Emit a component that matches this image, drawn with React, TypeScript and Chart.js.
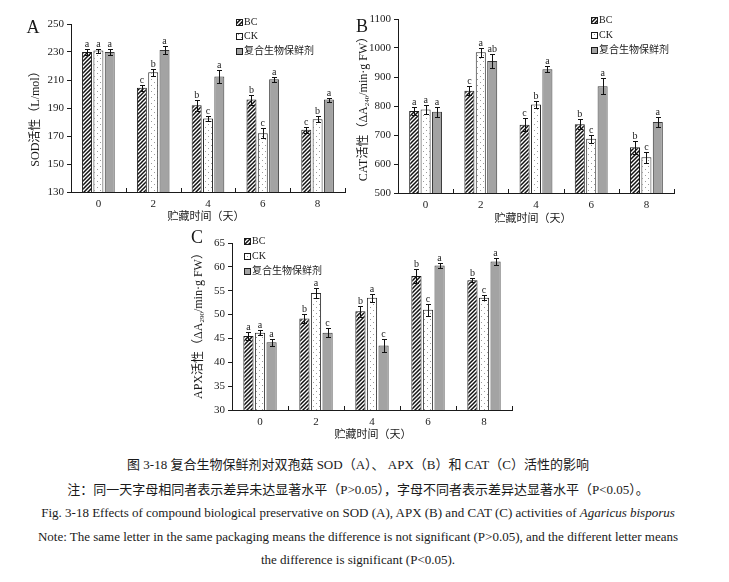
import React, { useEffect, useRef } from "react";
import { Chart, registerables } from "chart.js";

Chart.register(...registerables);

// ---------- data ----------
const DAYS = ["0", "2", "4", "6", "8"];
const SERIES_NAMES = ["BC", "CK", "复合生物保鲜剂"];

// SOD (A)
const SOD_BC = [230, 204.5, 192, 196, 174.5];
const SOD_CK = [231, 215.5, 182.5, 172, 182];
const SOD_FRESH = [230, 231.5, 212.5, 210.5, 196];
const SOD_ERR_BC = [2, 2, 4, 3.5, 2];
const SOD_ERR_CK = [1.5, 2.5, 1.5, 3.5, 2];
const SOD_ERR_FRESH = [2, 3, 4.5, 2, 1.5];
const SOD_SIG_BC = ["a", "c", "b", "b", "c"];
const SOD_SIG_CK = ["a", "b", "c", "c", "b"];
const SOD_SIG_FRESH = ["a", "a", "a", "a", "a"];
const SOD_TICKS = [130, 150, 170, 190, 210, 230, 250];

// CAT (B)
const CAT_BC = [783, 853, 735, 737, 658];
const CAT_CK = [788, 985, 805, 687, 623];
const CAT_FRESH = [780, 955, 927, 868, 745];
const CAT_ERR_BC = [13, 15, 22, 18, 22];
const CAT_ERR_CK = [15, 15, 13, 13, 20];
const CAT_ERR_FRESH = [17, 25, 10, 28, 18];
const CAT_SIG_BC = ["a", "c", "c", "b", "b"];
const CAT_SIG_CK = ["a", "a", "b", "c", "c"];
const CAT_SIG_FRESH = ["a", "ab", "a", "a", "a"];
const CAT_TICKS = [500, 600, 700, 800, 900, 1000, 1100];

// APX (C)
const APX_BC = [45.5, 49.2, 50.7, 58.1, 57.2];
const APX_CK = [46.2, 54.5, 53.5, 51, 53.5];
const APX_FRESH = [44.2, 46.2, 43.5, 60.3, 61.1];
const APX_ERR_BC = [0.8, 1, 1.2, 1.5, 0.4];
const APX_ERR_CK = [0.5, 1, 0.8, 1.2, 0.5];
const APX_ERR_FRESH = [0.7, 1, 1.4, 0.5, 0.8];
const APX_SIG_BC = ["a", "b", "b", "b", "b"];
const APX_SIG_CK = ["a", "a", "a", "c", "c"];
const APX_SIG_FRESH = ["a", "c", "c", "a", "a"];
const APX_TICKS = [30, 35, 40, 45, 50, 55, 60, 65];

const X_TITLE = "贮藏时间（天）";

const CAPTION_LINES = [
  "图 3-18 复合生物保鲜剂对双孢菇 SOD（A）、 APX（B）和 CAT（C）活性的影响",
  "注：同一天字母相同者表示差异未达显著水平（P>0.05），字母不同者表示差异达显著水平（P<0.05）。",
];
const CAPTION_EN_PREFIX = "Fig. 3-18 Effects of compound biological preservative on SOD (A), APX (B) and CAT (C) activities of ";
const CAPTION_EN_ITALIC = "Agaricus bisporus";
const NOTE_EN_1 = "Note: The same letter in the same packaging means the difference is not significant (P>0.05), and the different letter means";
const NOTE_EN_2 = "the difference is significant (P<0.05).";

// ---------- styles ----------
const SERIF = "'Liberation Serif', 'Times New Roman', 'Noto Sans CJK SC', serif";
const INK = "#1a1a1a";
const GRAY_FILL = "#a3a3a3";

type Spec = {
  id: string;
  canvas: { x: number; y: number; w: number; h: number };
  plot: { l: number; t: number; r: number; b: number };
  ticks: number[];
  values: number[][];
  errors: number[][];
  sig: string[][];
  yTitle: [string, string, string];
  yTitlePos: [number, number];
  xTitlePos: [number, number];
  panel: string;
  panelPos: [number, number];
  legendPos: [number, number];
  legendGap: number;
};

const SPECS: Spec[] = [
  {
    id: "A",
    canvas: { x: 0, y: 0, w: 362, h: 228 },
    plot: { l: 71, t: 24, r: 345, b: 192 },
    ticks: SOD_TICKS,
    values: [SOD_BC, SOD_CK, SOD_FRESH],
    errors: [SOD_ERR_BC, SOD_ERR_CK, SOD_ERR_FRESH],
    sig: [SOD_SIG_BC, SOD_SIG_CK, SOD_SIG_FRESH],
    yTitle: ["SOD活性（L/mol）", "", ""],
    yTitlePos: [36, 116],
    xTitlePos: [206, 217],
    panel: "A",
    panelPos: [33, 28],
    legendPos: [236, 22],
    legendGap: 14.5,
  },
  {
    id: "B",
    canvas: { x: 350, y: 0, w: 379, h: 228 },
    plot: { l: 398, t: 19, r: 674, b: 193 },
    ticks: CAT_TICKS,
    values: [CAT_BC, CAT_CK, CAT_FRESH],
    errors: [CAT_ERR_BC, CAT_ERR_CK, CAT_ERR_FRESH],
    sig: [CAT_SIG_BC, CAT_SIG_CK, CAT_SIG_FRESH],
    yTitle: ["CAT活性（ΔA", "240", "/min·g FW）"],
    yTitlePos: [364, 106],
    xTitlePos: [533, 219],
    panel: "B",
    panelPos: [362, 27],
    legendPos: [591, 20],
    legendGap: 15,
  },
  {
    id: "C",
    canvas: { x: 180, y: 225, w: 370, h: 220 },
    plot: { l: 232, t: 243, r: 512, b: 410 },
    ticks: APX_TICKS,
    values: [APX_BC, APX_CK, APX_FRESH],
    errors: [APX_ERR_BC, APX_ERR_CK, APX_ERR_FRESH],
    sig: [APX_SIG_BC, APX_SIG_CK, APX_SIG_FRESH],
    yTitle: ["APX活性（ΔA", "290", "/min·g FW）"],
    yTitlePos: [199, 323],
    xTitlePos: [373, 435],
    panel: "C",
    panelPos: [197, 238],
    legendPos: [244, 241],
    legendGap: 15,
  },
];

function makeHatch(): CanvasPattern | string {
  const c = document.createElement("canvas");
  c.width = 4;
  c.height = 4;
  const g = c.getContext("2d");
  if (!g) return "#666";
  g.fillStyle = "#fff";
  g.fillRect(0, 0, 4, 4);
  g.strokeStyle = "#111";
  g.lineWidth = 1.5;
  g.beginPath();
  g.moveTo(-1, 5);
  g.lineTo(5, -1);
  g.moveTo(-1, 1);
  g.lineTo(1, -1);
  g.moveTo(3, 5);
  g.lineTo(5, 3);
  g.stroke();
  return g.createPattern(c, "repeat") || "#666";
}

function makeDots(): CanvasPattern | string {
  const c = document.createElement("canvas");
  c.width = 6;
  c.height = 6;
  const g = c.getContext("2d");
  if (!g) return "#fff";
  g.fillStyle = "#fff";
  g.fillRect(0, 0, 6, 6);
  g.fillStyle = "#9a9a9a";
  g.fillRect(1, 1, 1, 1);
  g.fillRect(4, 4, 1, 1);
  return g.createPattern(c, "repeat") || "#fff";
}

function drawRotatedTitle(
  ctx: CanvasRenderingContext2D,
  parts: [string, string, string],
  cx: number,
  cy: number,
  size: number
) {
  ctx.save();
  ctx.translate(cx, cy);
  ctx.rotate(-Math.PI / 2);
  const mainFont = `${size}px ${SERIF}`;
  const subFont = `${Math.round(size * 0.62)}px ${SERIF}`;
  ctx.font = mainFont;
  const w0 = ctx.measureText(parts[0]).width;
  const w2 = ctx.measureText(parts[2]).width;
  ctx.font = subFont;
  const w1 = parts[1] ? ctx.measureText(parts[1]).width : 0;
  let x = -(w0 + w1 + w2) / 2;
  ctx.textBaseline = "middle";
  ctx.textAlign = "left";
  ctx.fillStyle = INK;
  ctx.font = mainFont;
  ctx.fillText(parts[0], x, 0);
  x += w0;
  if (parts[1]) {
    ctx.font = subFont;
    ctx.fillText(parts[1], x, size * 0.3);
    x += w1;
  }
  ctx.font = mainFont;
  ctx.fillText(parts[2], x, 0);
  ctx.restore();
}

function Panel({ spec }: { spec: Spec }) {
  const ref = useRef<HTMLCanvasElement | null>(null);

  useEffect(() => {
    const canvas = ref.current;
    if (!canvas) return;
    const hatch = makeHatch();
    const dots = makeDots();
    const fills = [hatch, dots, GRAY_FILL];
    const borders = [INK, "#2a2a2a", "#3a3a3a"];
    const ox = spec.canvas.x;
    const oy = spec.canvas.y;

    const overlay = {
      id: "overlay" + spec.id,
      afterDatasetsDraw(chart: any) {
        const ctx: CanvasRenderingContext2D = chart.ctx;
        const ys = chart.scales.y;
        ctx.save();
        for (let d = 0; d < 3; d++) {
          const meta = chart.getDatasetMeta(d);
          meta.data.forEach((bar: any, i: number) => {
            const v = spec.values[d][i];
            const e = spec.errors[d][i];
            const x = Math.round(bar.x) + 0.5;
            const yTop = Math.round(ys.getPixelForValue(v + e)) + 0.5;
            const yBot = Math.round(ys.getPixelForValue(v - e)) + 0.5;
            ctx.strokeStyle = "#111";
            ctx.lineWidth = 1;
            ctx.beginPath();
            ctx.moveTo(x, yTop);
            ctx.lineTo(x, yBot);
            ctx.moveTo(x - 2.5, yTop);
            ctx.lineTo(x + 2.5, yTop);
            ctx.moveTo(x - 2.5, yBot);
            ctx.lineTo(x + 2.5, yBot);
            ctx.stroke();
            ctx.fillStyle = "#222";
            ctx.font = `10px ${SERIF}`;
            ctx.textAlign = "center";
            ctx.textBaseline = "alphabetic";
            ctx.fillText(spec.sig[d][i], bar.x, yTop - 3);
          });
        }
        ctx.restore();
      },
      afterDraw(chart: any) {
        const ctx: CanvasRenderingContext2D = chart.ctx;
        const xs = chart.scales.x;
        const area = chart.chartArea;
        ctx.save();
        // category boundary ticks (pointing inward)
        ctx.strokeStyle = INK;
        ctx.lineWidth = 1;
        ctx.beginPath();
        const n = DAYS.length;
        for (let i = 0; i <= n; i++) {
          const x = Math.round(area.left + (i * (area.right - area.left)) / n) + 0.5;
          ctx.moveTo(x, area.bottom);
          ctx.lineTo(x, area.bottom - 4);
        }
        ctx.stroke();

        // x category labels
        ctx.fillStyle = "#222";
        ctx.font = `11px ${SERIF}`;
        ctx.textAlign = "center";
        ctx.textBaseline = "middle";
        DAYS.forEach((lab, i) => {
          ctx.fillText(lab, xs.getPixelForTick(i), area.bottom + 12);
        });

        // panel letter
        ctx.fillStyle = INK;
        ctx.font = `18px ${SERIF}`;
        ctx.fillText(spec.panel, spec.panelPos[0] - ox, spec.panelPos[1] - oy);

        // x title
        ctx.font = `11px ${SERIF}`;
        ctx.fillText(X_TITLE, spec.xTitlePos[0] - ox, spec.xTitlePos[1] - oy);

        // y title
        drawRotatedTitle(ctx, spec.yTitle, spec.yTitlePos[0] - ox, spec.yTitlePos[1] - oy, 12);

        // legend
        const lx = spec.legendPos[0] - ox;
        for (let k = 0; k < 3; k++) {
          const cy = spec.legendPos[1] - oy + k * spec.legendGap;
          ctx.fillStyle = fills[k] as any;
          ctx.fillRect(lx, Math.round(cy - 3.5), 7, 7);
          ctx.strokeStyle = INK;
          ctx.lineWidth = 1;
          ctx.strokeRect(lx + 0.5, Math.round(cy - 3.5) + 0.5, 6, 6);
          ctx.fillStyle = INK;
          ctx.font = `10px ${SERIF}`;
          ctx.textAlign = "left";
          ctx.textBaseline = "middle";
          ctx.fillText(SERIES_NAMES[k], lx + 8, cy);
        }
        ctx.restore();
      },
    };

    const chart = new Chart(canvas, {
      type: "bar",
      data: {
        labels: DAYS,
        datasets: spec.values.map((vals, k) => ({
          label: SERIES_NAMES[k],
          data: vals,
          backgroundColor: fills[k] as any,
          borderColor: borders[k],
          borderWidth: 1,
          categoryPercentage: 0.62,
          barPercentage: 0.88,
        })),
      },
      options: {
        responsive: false,
        animation: false,
        layout: {
          padding: {
            top: spec.plot.t - oy,
            right: ox + spec.canvas.w - spec.plot.r,
            left: 0,
            bottom: 0,
          },
        },
        plugins: {
          legend: { display: false },
          tooltip: { enabled: false },
          title: { display: false },
        },
        scales: {
          x: {
            type: "category",
            grid: { display: false },
            border: { display: true, color: INK, width: 1 },
            ticks: { display: false },
            afterFit: (s: any) => {
              s.height = oy + spec.canvas.h - spec.plot.b;
            },
          },
          y: {
            type: "linear",
            min: spec.ticks[0],
            max: spec.ticks[spec.ticks.length - 1],
            afterBuildTicks: (s: any) => {
              s.ticks = spec.ticks.map((v) => ({ value: v }));
            },
            grid: { drawOnChartArea: false, drawTicks: true, tickLength: 4, color: INK },
            border: { display: true, color: INK, width: 1 },
            ticks: {
              color: "#222",
              font: { family: SERIF, size: 11 },
              padding: 3,
              callback: (v: any) => String(v),
            },
            afterFit: (s: any) => {
              s.width = spec.plot.l - ox;
            },
          },
        },
      } as any,
      plugins: [overlay as any],
    });
    return () => chart.destroy();
  }, [spec]);

  return (
    <canvas
      ref={ref}
      width={spec.canvas.w}
      height={spec.canvas.h}
      style={{
        position: "absolute",
        left: spec.canvas.x,
        top: spec.canvas.y,
        width: spec.canvas.w,
        height: spec.canvas.h,
      }}
    />
  );
}

const lineStyle = (top: number, size: number): React.CSSProperties => ({
  position: "absolute",
  left: 0,
  width: 716,
  top: top - 9,
  height: 18,
  lineHeight: "18px",
  textAlign: "center",
  fontFamily: SERIF,
  fontSize: size,
  color: "#1a1a1a",
  whiteSpace: "nowrap",
});

export default function App() {
  return (
    <div
      style={{
        position: "absolute",
        left: 0,
        top: 0,
        width: 729,
        height: 582,
        background: "#fff",
        overflow: "hidden",
      }}
    >
      {SPECS.map((s) => (
        <Panel key={s.id} spec={s} />
      ))}
      <div style={lineStyle(465, 13)}>{CAPTION_LINES[0]}</div>
      <div style={lineStyle(490, 13)}>{CAPTION_LINES[1]}</div>
      <div style={lineStyle(513, 13)}>
        {CAPTION_EN_PREFIX}
        <i>{CAPTION_EN_ITALIC}</i>
      </div>
      <div style={lineStyle(537, 13)}>{NOTE_EN_1}</div>
      <div style={lineStyle(560, 13)}>{NOTE_EN_2}</div>
    </div>
  );
}
